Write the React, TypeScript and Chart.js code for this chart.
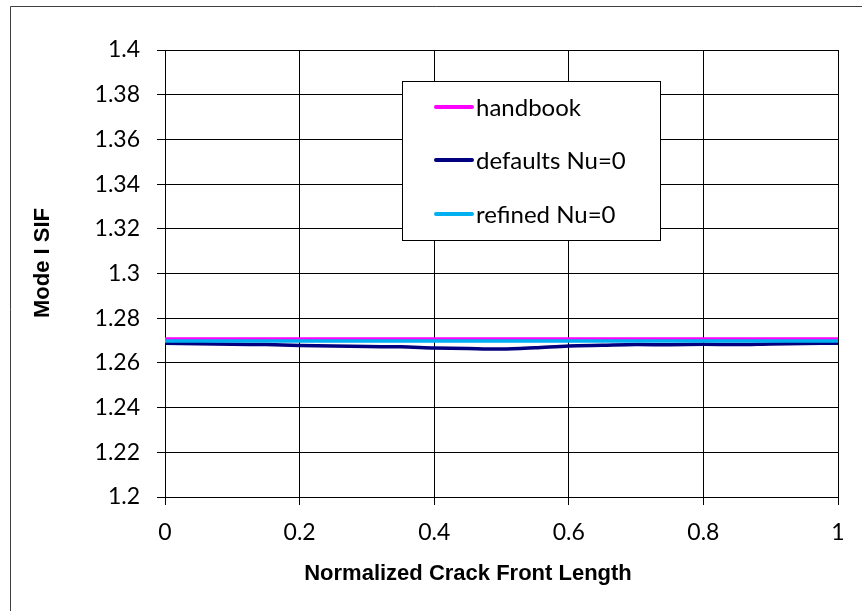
import React, { useEffect, useRef } from "react";
import { Chart, registerables } from "chart.js";

Chart.register(...registerables);

const xPositions = [0, 0.05, 0.1, 0.15, 0.2, 0.25, 0.3, 0.35, 0.4, 0.45, 0.5, 0.55, 0.6, 0.65, 0.7, 0.75, 0.8, 0.85, 0.9, 0.95, 1.0];
const handbook = [1.2707, 1.2707, 1.2707, 1.2707, 1.2707, 1.2707, 1.2707, 1.2707, 1.2707, 1.2707, 1.2707, 1.2707, 1.2707, 1.2707, 1.2707, 1.2707, 1.2707, 1.2707, 1.2707, 1.2707, 1.2707];
const defaultsNu0 = [1.2688, 1.2686, 1.2683, 1.2682, 1.2678, 1.2676, 1.2673, 1.2672, 1.2667, 1.2664, 1.2662, 1.2668, 1.2676, 1.2679, 1.2682, 1.2681, 1.2683, 1.2682, 1.2685, 1.2687, 1.2688];
const refinedNu0 = [1.2698, 1.2698, 1.2698, 1.2698, 1.2698, 1.2698, 1.2698, 1.2698, 1.2698, 1.2698, 1.2698, 1.2698, 1.2698, 1.2698, 1.2698, 1.2698, 1.2698, 1.2698, 1.2698, 1.2698, 1.2698];
const seriesNames = ["handbook", "defaults Nu=0", "refined Nu=0"];
const seriesColors = ["#FF00FF", "#000080", "#00B0F0"];
const xTitle = "Normalized Crack Front Length";
const yTitle = "Mode I SIF";

const tickFont = "Lato";

const overlayPlugin = {
  id: "overlay",
  afterDraw(chart: any) {
    const ctx = chart.ctx;
    ctx.save();
    // outer chart border
    ctx.strokeStyle = "#404040";
    ctx.lineWidth = 1;
    ctx.beginPath();
    ctx.moveTo(10.5, 620);
    ctx.lineTo(10.5, 6.5);
    ctx.lineTo(870, 6.5);
    ctx.stroke();

    // axis titles
    ctx.fillStyle = "#000";
    ctx.font = "bold 22px 'Liberation Sans', Arial, sans-serif";
    ctx.textAlign = "center";
    ctx.textBaseline = "middle";
    ctx.fillText(xTitle, 468, 574);
    ctx.save();
    ctx.translate(43, 263);
    ctx.rotate(-Math.PI / 2);
    ctx.fillText(yTitle, 0, 0);
    ctx.restore();

    // legend
    const lx = 402.5, ly = 81.5, lw = 258, lh = 159;
    ctx.fillStyle = "#fff";
    ctx.fillRect(lx, ly, lw, lh);
    ctx.strokeStyle = "#000";
    ctx.lineWidth = 1;
    ctx.strokeRect(lx, ly, lw, lh);
    const rows = [107, 160, 214];
    chart.data.datasets.forEach((ds: any, i: number) => {
      const y = rows[i];
      ctx.strokeStyle = ds.borderColor;
      ctx.lineWidth = 4;
      ctx.lineCap = "round";
      ctx.beginPath();
      ctx.moveTo(436, y);
      ctx.lineTo(472, y);
      ctx.stroke();
      ctx.fillStyle = "#000";
      ctx.font = `24px ${tickFont}`;
      ctx.textAlign = "left";
      ctx.textBaseline = "middle";
      ctx.fillText(ds.label, 476, y + 1);
    });
    ctx.restore();
  },
};

export default function App() {
  const ref = useRef<HTMLCanvasElement | null>(null);
  useEffect(() => {
    if (!ref.current) return;
    const mk = (vals: number[]) => xPositions.map((x, i) => ({ x, y: vals[i] }));
    const all = [handbook, defaultsNu0, refinedNu0];
    const chart = new Chart(ref.current, {
      type: "line",
      data: {
        datasets: all.map((vals, i) => ({
          label: seriesNames[i],
          data: mk(vals),
          borderColor: seriesColors[i],
          backgroundColor: seriesColors[i],
          borderWidth: 3.5,
          pointRadius: 0,
          tension: 0.3,
          fill: false,
          order: i === 0 ? 1 : i === 1 ? 2 : 0,
        })),
      },
      options: {
        responsive: false,
        animation: false,
        devicePixelRatio: 1,
        layout: { padding: { top: 50, right: 24, left: 0, bottom: 0 } },
        plugins: {
          legend: { display: false },
          tooltip: { enabled: false },
          title: { display: false },
        },
        scales: {
          x: {
            type: "linear",
            min: 0,
            max: 1,
            afterFit: (s: any) => { s.height = 114; },
            ticks: {
              stepSize: 0.2,
              color: "#000",
              font: { family: tickFont, size: 23 },
              padding: 14,
              maxRotation: 0,
              callback: (v: any) => String(Math.round(Number(v) * 10) / 10),
            },
            grid: { color: "#000", lineWidth: 1, tickLength: 8, drawTicks: true },
            border: { color: "#000", width: 1 },
          },
          y: {
            type: "linear",
            min: 1.2,
            max: 1.4,
            afterFit: (s: any) => { s.width = 165; },
            ticks: {
              stepSize: 0.02,
              color: "#000",
              font: { family: tickFont, size: 23 },
              padding: 17,
              callback: (v: any) => String(Math.round(Number(v) * 100) / 100),
            },
            grid: { color: "#000", lineWidth: 1, tickLength: 8, drawTicks: true },
            border: { color: "#000", width: 1 },
          },
        },
      },
      plugins: [overlayPlugin],
    });
    return () => chart.destroy();
  }, []);
  return (
    <div style={{ position: "absolute", left: 0, top: 0, width: 862, height: 611, background: "#fff" }}>
      <canvas ref={ref} width={862} height={611} style={{ display: "block", width: 862, height: 611 }} />
    </div>
  );
}
